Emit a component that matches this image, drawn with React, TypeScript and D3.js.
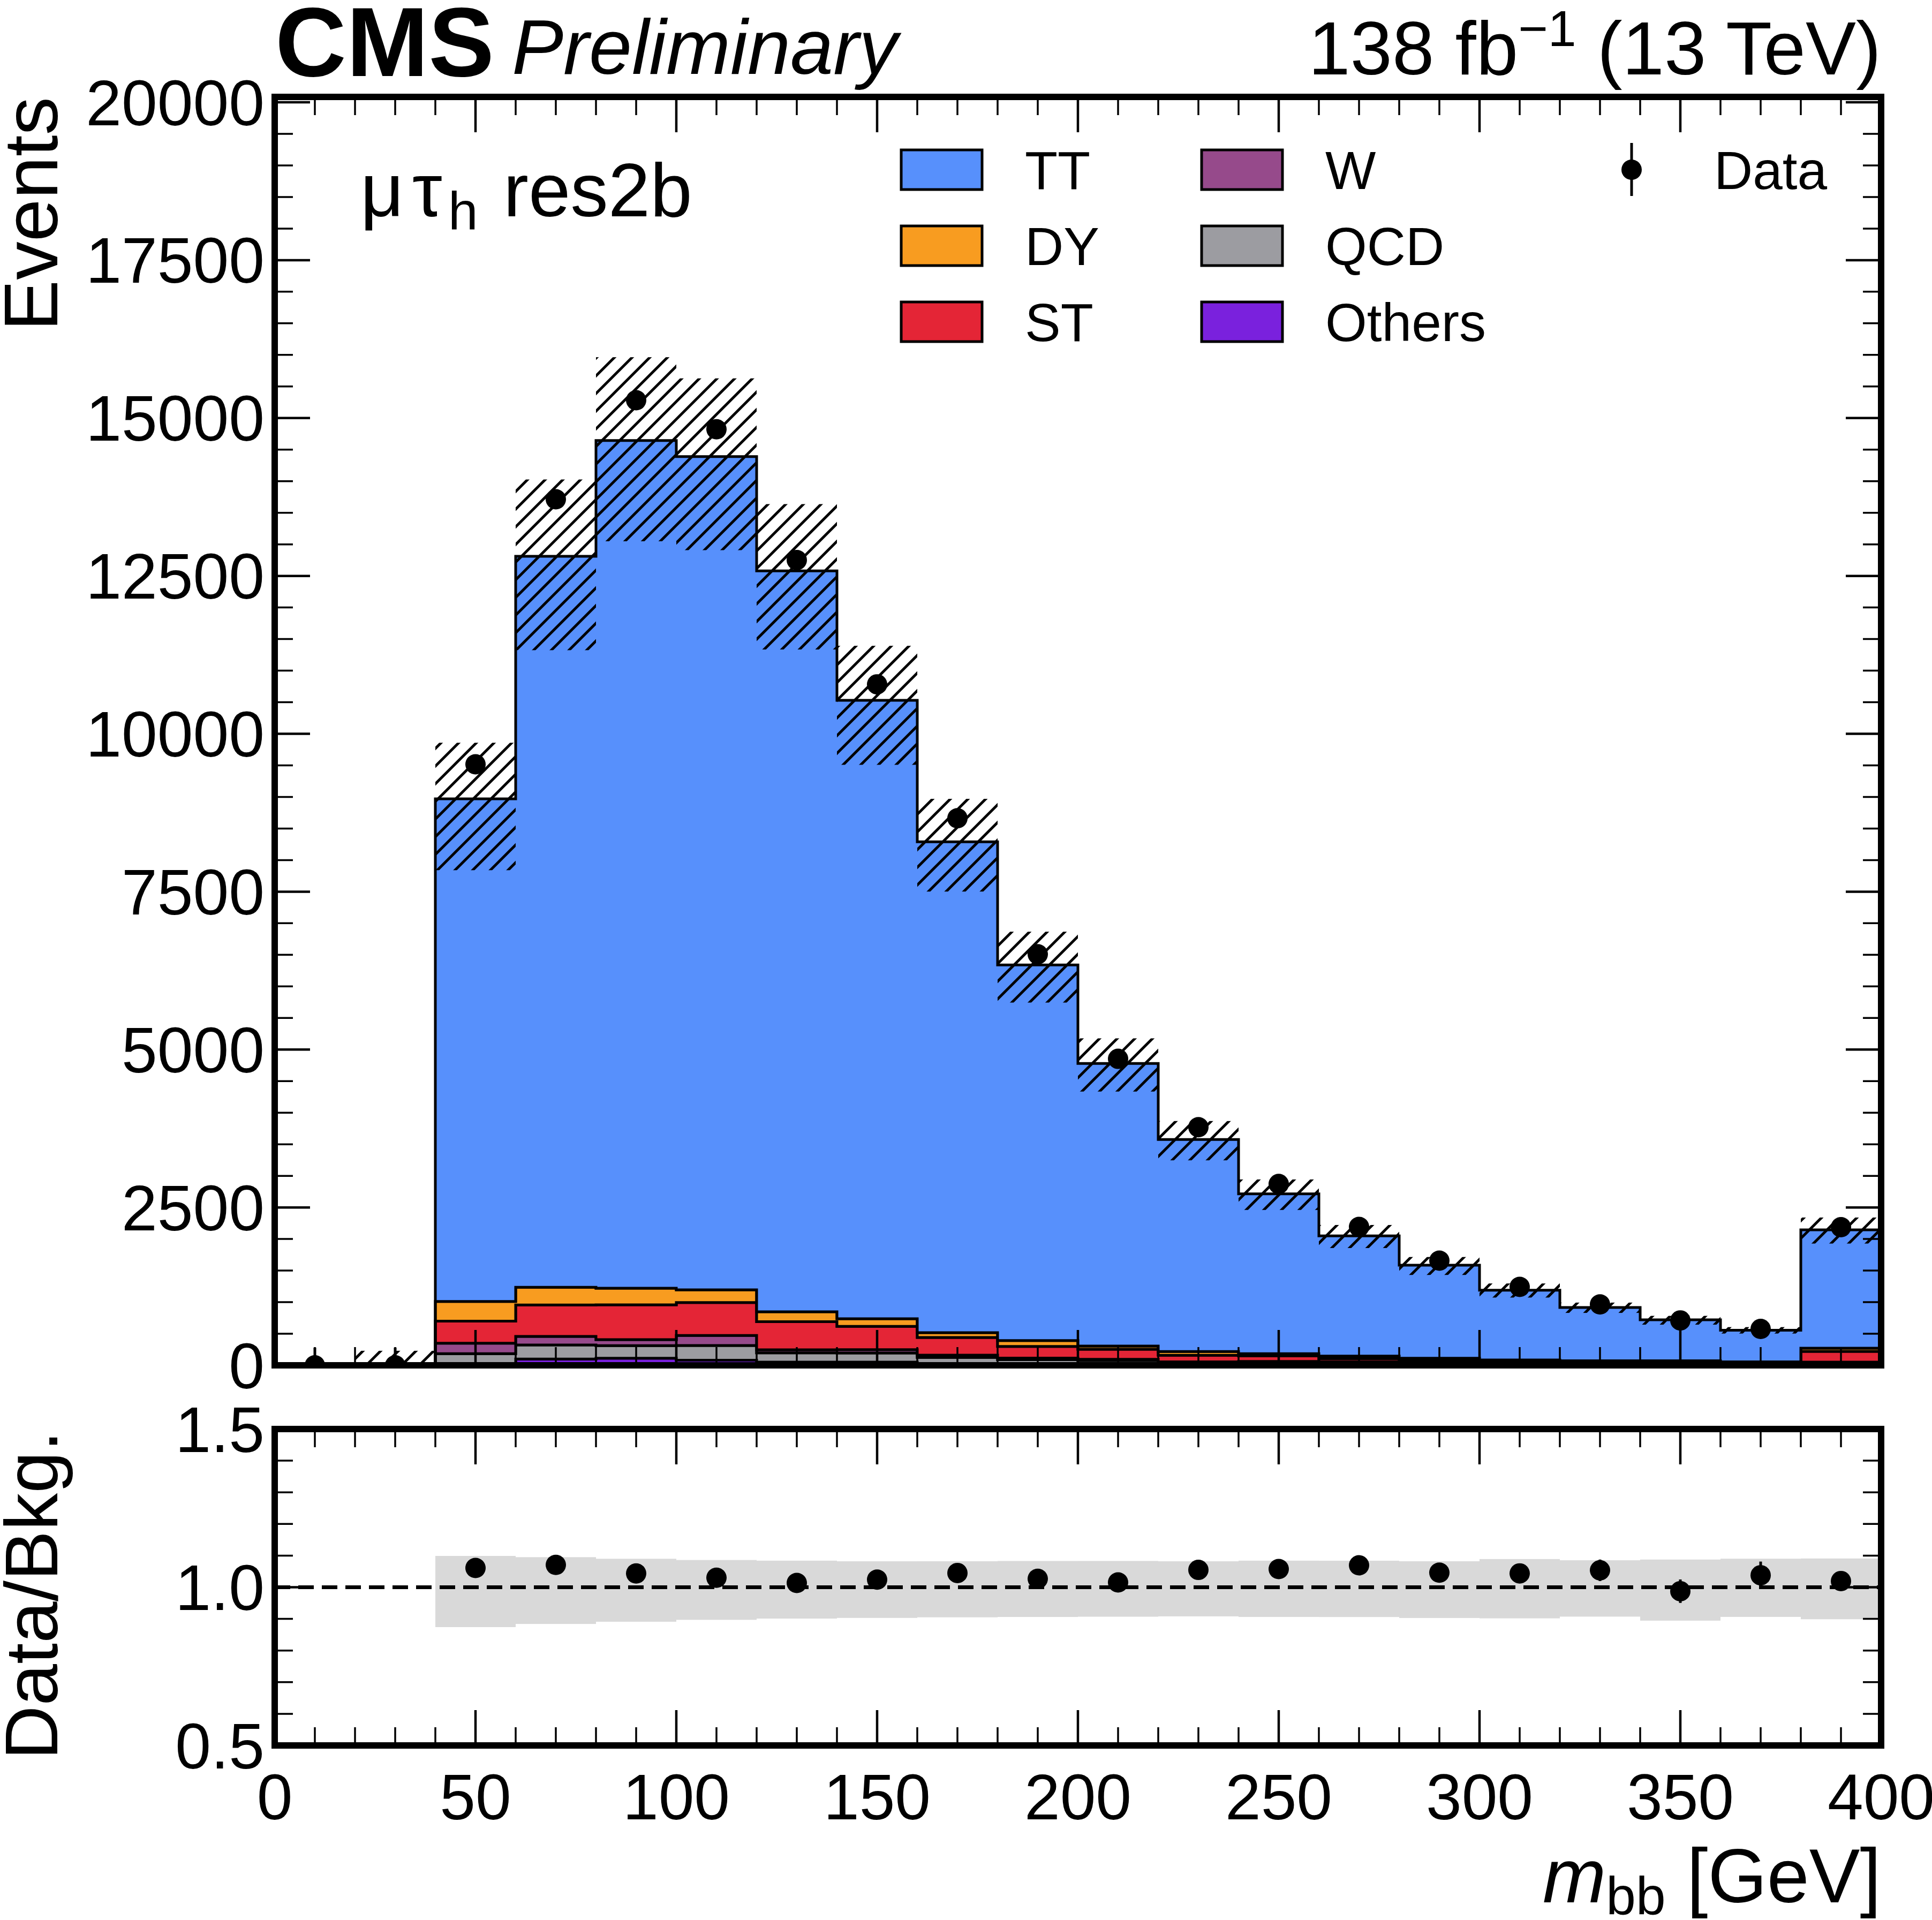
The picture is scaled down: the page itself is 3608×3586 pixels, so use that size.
import React from 'react';
import * as d3 from 'd3';

// m_bb bins [GeV]
const binEdges = [0, 20, 40, 60, 80, 100, 120, 140, 160, 180, 200, 220, 240, 260, 280, 300, 320, 340, 360, 380, 400];

// stacked backgrounds (events per bin)
const tt = [0, 0, 7959, 11575, 13424, 13195, 11732, 9793, 7773, 5947, 4475, 3357, 2531, 1903, 1472, 1105, 842, 647, 499, 1874];
const dy = [0, 0, 311, 280, 263, 200, 158, 121, 76, 95, 51, 58, 34, 43, 37, 25, 20, 20, 15, 51];
const st = [0, 0, 351, 497, 551, 523, 444, 367, 280, 184, 158, 104, 88, 48, 28, 20, 18, 18, 14, 169];
const wjets = [0, 0, 165, 136, 96, 158, 48, 54, 36, 24, 20, 12, 12, 10, 8, 6, 5, 5, 4, 12];
const qcd = [0, 0, 154, 223, 198, 234, 148, 145, 95, 70, 60, 34, 40, 38, 32, 28, 25, 25, 19, 30];
const others = [0, 0, 30, 99, 113, 80, 50, 50, 30, 20, 16, 10, 10, 8, 8, 6, 5, 5, 4, 9];

// background uncertainty (events, up / down)
const uncUp = [0, 230, 888, 1217, 1318, 1238, 1057, 863, 680, 526, 397, 293, 228, 172, 130, 106, 78, 63, 50, 195];
const uncDown = [0, 0, 1130, 1486, 1596, 1482, 1245, 1021, 788, 596, 445, 329, 255, 193, 154, 117, 85, 76, 52, 217];

// observed data
const data = [0, 0, 9517, 13714, 15282, 14822, 12751, 10783, 8663, 6509, 4853, 3771, 2871, 2192, 1658, 1242, 964, 711, 576, 2187];
const emptyBinErr = 280;

// ticks
const xMajor = [0, 50, 100, 150, 200, 250, 300, 350, 400];
const xMinor = [10, 20, 30, 40, 60, 70, 80, 90, 110, 120, 130, 140, 160, 170, 180, 190, 210, 220, 230, 240, 260, 270, 280, 290, 310, 320, 330, 340, 360, 370, 380, 390];
const yMajor = [0, 2500, 5000, 7500, 10000, 12500, 15000, 17500, 20000];
const yMinor = d3.range(0, 20001, 500).filter((v) => v % 2500 !== 0);
const rMajor = [0.5, 1.0, 1.5];
const rMajorLabels = ['0.5', '1.0', '1.5'];
const rMinor = [0.6, 0.7, 0.8, 0.9, 1.1, 1.2, 1.3, 1.4];

const stackKeys = ['Others', 'QCD', 'W', 'ST', 'DY', 'TT'];
const colors: Record<string, string> = {
  TT: '#5790fc',
  DY: '#f89c20',
  ST: '#e42536',
  W: '#964a8b',
  QCD: '#9c9ca1',
  Others: '#7a21dd',
};
const legendCols = [['TT', 'DY', 'ST'], ['W', 'QCD', 'Others']];

const W = 3608;
const H = 3586;
const left = 513;
const right = 3513;
const mainTop = 181;
const mainBottom = 2550;
const ratioTop = 2669;
const ratioBottom = 3260;
const font = 'Liberation Sans, Arial, Helvetica, sans-serif';

type Row = Record<string, number>;

const App: React.FC = () => {
  const nb = binEdges.length - 1;
  const x = d3.scaleLinear().domain([0, 400]).range([left, right]);
  const y = d3.scaleLinear().domain([0, 20085]).range([mainBottom, mainTop]);
  const yr = d3.scaleLinear().domain([0.5, 1.5]).range([ratioBottom, ratioTop]);

  const rows: Row[] = d3.range(nb).map((i) => ({
    Others: others[i],
    QCD: qcd[i],
    W: wjets[i],
    ST: st[i],
    DY: dy[i],
    TT: tt[i],
  }));
  const series = d3.stack<Row>().keys(stackKeys)(rows);
  const total = rows.map((r) => d3.sum(stackKeys, (k) => r[k]));

  type P = { e: number; lo: number; hi: number };
  const area = d3
    .area<P>()
    .x((d) => x(d.e))
    .y0((d) => y(d.lo))
    .y1((d) => y(d.hi))
    .curve(d3.curveStepAfter);

  const centers = d3.range(nb).map((i) => (binEdges[i] + binEdges[i + 1]) / 2);

  const ticks = (top: number, bottom: number, ys: (v: number) => number, yMaj: number[], yMin: number[]) => {
    const out: React.ReactNode[] = [];
    const push = (k: string, x1: number, y1: number, x2: number, y2: number, w: number) =>
      out.push(<line key={k} x1={x1} y1={y1} x2={x2} y2={y2} stroke="#000" strokeWidth={w} />);
    xMajor.forEach((v) => {
      push(`xb${v}`, x(v), bottom, x(v), bottom - 66, 4.5);
      push(`xt${v}`, x(v), top, x(v), top + 66, 4.5);
    });
    xMinor.forEach((v) => {
      push(`xbm${v}`, x(v), bottom, x(v), bottom - 34, 3.5);
      push(`xtm${v}`, x(v), top, x(v), top + 34, 3.5);
    });
    yMaj.forEach((v) => {
      push(`yl${v}`, left, ys(v), left + 66, ys(v), 4.5);
      push(`yr${v}`, right, ys(v), right - 66, ys(v), 4.5);
    });
    yMin.forEach((v) => {
      push(`ylm${v}`, left, ys(v), left + 34, ys(v), 3.5);
      push(`yrm${v}`, right, ys(v), right - 34, ys(v), 3.5);
    });
    return out;
  };

  return (
    <svg
      width={W}
      height={H}
      viewBox={`0 0 ${W} ${H}`}
      style={{ position: 'absolute', left: 0, top: 0, background: '#fff' }}
      fontFamily={font}
    >
      <defs>
        <clipPath id="mainClip">
          <rect x={left} y={mainTop} width={right - left} height={mainBottom - mainTop} />
        </clipPath>
        <clipPath id="ratioClip">
          <rect x={left} y={ratioTop} width={right - left} height={ratioBottom - ratioTop} />
        </clipPath>
        <pattern id="hatch" patternUnits="userSpaceOnUse" width={33} height={33}>
          <path d="M-8,8 L8,-8 M0,33 L33,0 M25,41 L41,25" stroke="#000" strokeWidth={5} />
        </pattern>
      </defs>

      <rect x={0} y={0} width={W} height={H} fill="#fff" />

      {/* main panel */}
      <g clipPath="url(#mainClip)">
        {series.map((s) => {
          const pts: P[] = binEdges.map((e, i) => {
            const j = Math.min(i, nb - 1);
            return { e, lo: s[j][0], hi: s[j][1] };
          });
          return (
            <path
              key={s.key}
              d={area(pts) || ''}
              fill={colors[s.key]}
              stroke="#000"
              strokeWidth={5}
              strokeLinejoin="miter"
            />
          );
        })}
        {d3.range(nb).map((i) =>
          uncUp[i] + uncDown[i] > 0 ? (
            <rect
              key={`h${i}`}
              x={x(binEdges[i])}
              width={x(binEdges[i + 1]) - x(binEdges[i])}
              y={y(total[i] + uncUp[i])}
              height={y(Math.max(0, total[i] - uncDown[i])) - y(total[i] + uncUp[i])}
              fill="url(#hatch)"
            />
          ) : null
        )}
        {data.map((d, i) => {
          const eUp = d > 0 ? Math.sqrt(d) : emptyBinErr;
          const eDn = d > 0 ? Math.sqrt(d) : 0;
          return (
            <g key={`d${i}`}>
              <line x1={x(centers[i])} x2={x(centers[i])} y1={y(d + eUp)} y2={y(d - eDn)} stroke="#000" strokeWidth={5} />
              <circle cx={x(centers[i])} cy={y(d)} r={19} fill="#000" />
            </g>
          );
        })}
      </g>
      {ticks(mainTop, mainBottom, y, yMajor, yMinor)}
      <rect x={left} y={mainTop} width={right - left} height={mainBottom - mainTop} fill="none" stroke="#000" strokeWidth={12} />

      {/* ratio panel */}
      <g clipPath="url(#ratioClip)">
        {d3.range(nb).map((i) =>
          total[i] > 0 ? (
            <rect
              key={`b${i}`}
              x={x(binEdges[i])}
              width={x(binEdges[i + 1]) - x(binEdges[i])}
              y={yr(1 + uncUp[i] / total[i])}
              height={yr(1 - uncDown[i] / total[i]) - yr(1 + uncUp[i] / total[i])}
              fill="#d9d9d9"
            />
          ) : null
        )}
        <line x1={left} x2={right} y1={yr(1)} y2={yr(1)} stroke="#000" strokeWidth={7} strokeDasharray="29 15" />
        {data.map((d, i) => {
          if (total[i] <= 0) return null;
          const r = d / total[i];
          const e = Math.sqrt(d) / total[i];
          return (
            <g key={`r${i}`}>
              <line x1={x(centers[i])} x2={x(centers[i])} y1={yr(r + e)} y2={yr(r - e)} stroke="#000" strokeWidth={5} />
              <circle cx={x(centers[i])} cy={yr(r)} r={19} fill="#000" />
            </g>
          );
        })}
      </g>
      {ticks(ratioTop, ratioBottom, yr, rMajor, rMinor)}
      <rect x={left} y={ratioTop} width={right - left} height={ratioBottom - ratioTop} fill="none" stroke="#000" strokeWidth={12} />

      {/* tick labels */}
      {yMajor.map((v) => (
        <text key={`yl${v}`} x={494} y={y(v)} dy="0.355em" textAnchor="end" fontSize={120}>
          {v}
        </text>
      ))}
      {rMajor.map((v, i) => (
        <text key={`rl${v}`} x={494} y={yr(v)} dy="0.355em" textAnchor="end" fontSize={120}>
          {rMajorLabels[i]}
        </text>
      ))}
      {xMajor.map((v) => (
        <text key={`xl${v}`} x={x(v)} y={3398} textAnchor="middle" fontSize={120}>
          {v}
        </text>
      ))}

      {/* axis titles */}
      <text transform={`translate(107,${mainTop}) rotate(-90)`} textAnchor="end" fontSize={143}>
        Events
      </text>
      <text transform={`translate(107,${ratioTop + 3}) rotate(-90)`} textAnchor="end" fontSize={140}>
        Data/Bkg.
      </text>
      <text x={right} y={3553} textAnchor="end" fontSize={142}>
        <tspan fontStyle="italic">m</tspan>
        <tspan fontSize={100} dy={23}>bb</tspan>
        <tspan dy={-23}> [GeV]</tspan>
      </text>

      {/* header */}
      <text x={514} y={142} fontSize={184} fontWeight="bold">
        CMS
      </text>
      <text x={956} y={138} fontSize={144} fontStyle="italic">
        Preliminary
      </text>
      <text x={right} y={139} textAnchor="end" fontSize={141}>
        138 fb
        <tspan fontSize={95} dy={-53}>−1</tspan>
        <tspan dy={53}> (13 TeV)</tspan>
      </text>

      {/* channel label */}
      <text y={404} fontSize={141}>
        <tspan x={673}>μ</tspan>
        <tspan x={770}>τ</tspan>
        <tspan x={837} dy={25} fontSize={100}>h</tspan>
        <tspan x={940} dy={-25}>res2b</tspan>
      </text>

      {/* legend */}
      {legendCols.map((col, ci) =>
        col.map((key, ri) => {
          const bx = [1683, 2244][ci];
          const cy = 317 + ri * 142;
          return (
            <g key={key}>
              <rect x={bx} y={cy - 37} width={151} height={74} fill={colors[key]} stroke="#000" strokeWidth={5} />
              <text x={bx + 231} y={cy} dy="0.355em" fontSize={100}>
                {key}
              </text>
            </g>
          );
        })
      )}
      <line x1={3047} x2={3047} y1={267} y2={366} stroke="#000" strokeWidth={5} />
      <circle cx={3047} cy={317} r={19} fill="#000" />
      <text x={3201} y={317} dy="0.355em" fontSize={100}>
        Data
      </text>
    </svg>
  );
};

export default App;
